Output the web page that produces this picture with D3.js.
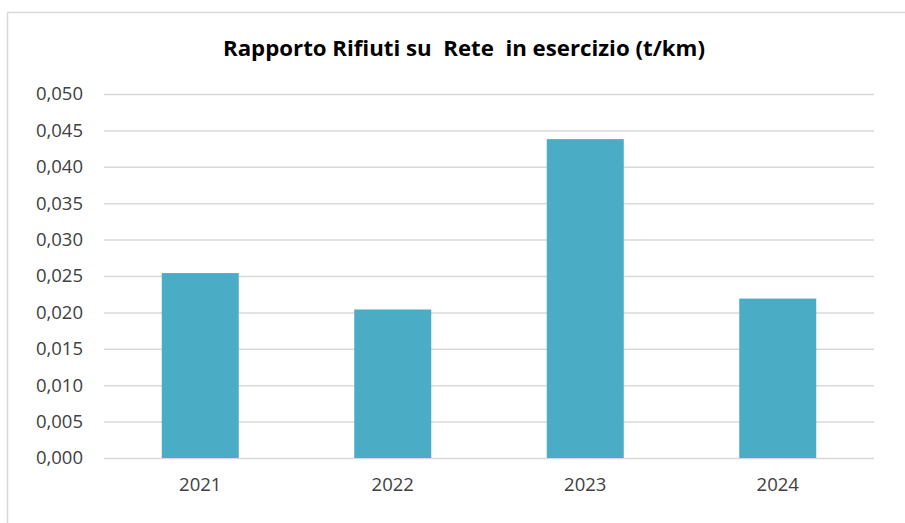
<!DOCTYPE html>
<html>
<head>
<meta charset="utf-8">
<script src="https://cdn.jsdelivr.net/npm/d3@7"></script>
<style>
  body { margin: 0; background: #fff; }
  svg { display: block; }
</style>
</head>
<body>
<div class="chart"></div>
<script>
var svgWidth = 905;
var svgHeight = 523;

// data
var years = ["2021", "2022", "2023", "2024"];
var ratio = [0.0254, 0.0204, 0.0438, 0.0219];
var yTicks = [0, 0.005, 0.01, 0.015, 0.02, 0.025, 0.03, 0.035, 0.04, 0.045, 0.05];

var plot = { left: 104, right: 874, top: 94, bottom: 458 };

var svg = d3.select(".chart")
  .append("svg")
  .attr("width", svgWidth)
  .attr("height", svgHeight);

// outer frame (runs off the right and bottom edge)
svg.append("rect")
  .attr("x", 7.5)
  .attr("y", 12.5)
  .attr("width", 920)
  .attr("height", 530)
  .attr("fill", "white")
  .attr("stroke", "#d9d9d9")
  .attr("stroke-width", 1.5);

// title
svg.append("text")
  .attr("x", 464)
  .attr("y", 56)
  .attr("text-anchor", "middle")
  .attr("font-family", "'Liberation Sans Narrow', 'Open Sans', sans-serif")
  .attr("font-weight", "bold")
  .attr("font-size", "22px")
  .attr("fill", "#000")
  .attr("textLength", 482)
  .attr("lengthAdjust", "spacingAndGlyphs")
  .style("white-space", "pre")
  .text("Rapporto Rifiuti su  Rete  in esercizio (t/km)");

var xScale = d3.scaleBand()
  .domain(years)
  .range([plot.left, plot.right])
  .paddingInner(0.6)
  .paddingOuter(0.3);

var yScale = d3.scaleLinear()
  .domain([0, 0.05])
  .range([plot.bottom, plot.top]);

var fmt = function(d) { return d3.format(".3f")(d).replace(".", ","); };

// y axis with gridlines
var leftAxis = d3.axisLeft(yScale)
  .tickValues(yTicks)
  .tickSize(-(plot.right - plot.left))
  .tickPadding(21)
  .tickFormat(fmt);

var yAxis = svg.append("g")
  .attr("transform", `translate(${plot.left}, 0)`)
  .call(leftAxis);

yAxis.select(".domain").remove();
yAxis.selectAll(".tick line")
  .attr("stroke", "#d9d9d9")
  .attr("stroke-width", 1.5);
yAxis.selectAll(".tick text")
  .attr("font-family", "'Open Sans', sans-serif")
  .attr("font-size", "18.5px")
  .attr("fill", "#404040");

// bars
svg.append("g").selectAll("rect")
  .data(years)
  .enter()
  .append("rect")
  .attr("x", d => xScale(d))
  .attr("y", (d, i) => yScale(ratio[i]))
  .attr("width", xScale.bandwidth())
  .attr("height", (d, i) => yScale(0) - yScale(ratio[i]))
  .attr("fill", "#4bacc6");

// x axis
var bottomAxis = d3.axisBottom(xScale)
  .tickSize(0)
  .tickPadding(20);

var xAxis = svg.append("g")
  .attr("transform", `translate(0, ${plot.bottom})`)
  .call(bottomAxis);

xAxis.select(".domain").remove();
xAxis.selectAll(".tick text")
  .attr("font-family", "'Open Sans', sans-serif")
  .attr("font-size", "18.5px")
  .attr("fill", "#404040");
</script>
</body>
</html>
